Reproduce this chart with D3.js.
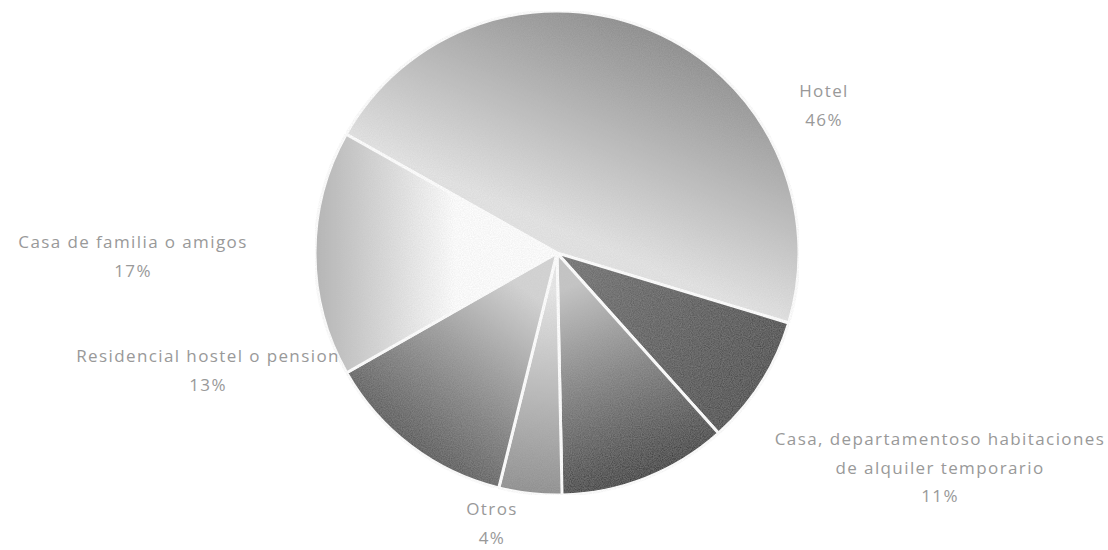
<!DOCTYPE html>
<html>
<head>
<meta charset="utf-8">
<script src="https://cdn.jsdelivr.net/npm/d3@7"></script>
<style>
  body { margin: 0; background: #ffffff; }
</style>
</head>
<body>
<div id="chart"></div>
<script>
// ---------------------- data ---------------------
var categories = ["Hotel", "", "Casa, departamentoso habitaciones|de alquiler temporario", "Otros", "Residencial hostel o pension", "Casa de familia o amigos"];
var shares = [46.5, 8.7, 11.3, 4.2, 12.9, 16.4];
var pctLabels = ["46%", "", "11%", "4%", "13%", "17%"];

// ---------------------- look ---------------------
var innerColors = ["#e4e4e4", "#707070", "#c4c4c4", "#e8e8e8", "#d4d4d4", "#ffffff"];
var outerColors = ["#8a8a8a", "#474747", "#363636", "#8c8c8c", "#545454", "#b4b4b4"];
var innerStops = [0.1, 0.0, 0.15, 0.15, 0.2, 0.42];
var labelLayout = [[824, 97], null, [940, 445], [492, 515], [208, 362], [133, 248]];

var width = 1108, height = 550;
var cx = 557, cy = 253, radius = 242;

var svg = d3.select("#chart")
     .append("svg")
     .attr("width", width)
     .attr("height", height);

var pie = d3.pie()
     .sort(null)
     .startAngle(-60.6 * Math.PI / 180)
     .endAngle((360 - 60.6) * Math.PI / 180)
     .value(function(d) { return d; });

var arc = d3.arc().innerRadius(0).outerRadius(radius);
var arcs = pie(shares);

// ---------------------- gradients, one per slice, centre to rim ---------------------
var defs = svg.append("defs");
arcs.forEach(function(a, i) {
     var mid = (a.startAngle + a.endAngle) / 2;
     var g = defs.append("linearGradient")
          .attr("id", "grad" + i)
          .attr("gradientUnits", "userSpaceOnUse")
          .attr("x1", 0).attr("y1", 0)
          .attr("x2", Math.sin(mid) * radius)
          .attr("y2", -Math.cos(mid) * radius);
     g.append("stop").attr("offset", innerStops[i]).attr("stop-color", innerColors[i]);
     g.append("stop").attr("offset", 1).attr("stop-color", outerColors[i]);
});

// grain, a rough stand-in for the dithered print
var grain = defs.append("filter").attr("id", "grain")
     .attr("x", 0).attr("y", 0).attr("width", 1).attr("height", 1);
grain.append("feTurbulence")
     .attr("type", "fractalNoise")
     .attr("baseFrequency", 0.9)
     .attr("numOctaves", 2)
     .attr("seed", 3)
     .attr("result", "noise");
grain.append("feColorMatrix")
     .attr("in", "noise")
     .attr("type", "matrix")
     .attr("values", "0 0 0 0 0.5  0 0 0 0 0.5  0 0 0 0 0.5  0 0 0 0.35 -0.05")
     .attr("result", "tint");
grain.append("feComposite")
     .attr("in", "tint")
     .attr("in2", "SourceGraphic")
     .attr("operator", "atop");

// ---------------------- slices ---------------------
var pieG = svg.append("g")
     .attr("transform", "translate(" + cx + "," + cy + ")");

pieG.selectAll("path")
     .data(arcs)
     .enter()
     .append("path")
     .attr("d", arc)
     .attr("fill", function(d, i) { return "url(#grad" + i + ")"; })
     .attr("filter", "url(#grain)")
     .attr("stroke", "#ffffff")
     .attr("stroke-width", 3)
     .attr("stroke-linejoin", "round");

// ---------------------- labels ---------------------
var lab = svg.append("g")
     .style("font-family", "'Open Sans', sans-serif")
     .style("font-size", "17px")
     .style("letter-spacing", "1.4px")
     .attr("fill", "#999999")
     .attr("text-anchor", "middle");

categories.forEach(function(c, i) {
     if (!c) return;
     var pos = labelLayout[i];
     var lines = c.split("|").concat([pctLabels[i]]);
     var t = lab.append("text").attr("x", pos[0]).attr("y", pos[1]);
     lines.forEach(function(l, k) {
          t.append("tspan")
               .attr("x", pos[0])
               .attr("dy", k == 0 ? 0 : 28.5)
               .text(l);
     });
});
</script>
</body>
</html>
